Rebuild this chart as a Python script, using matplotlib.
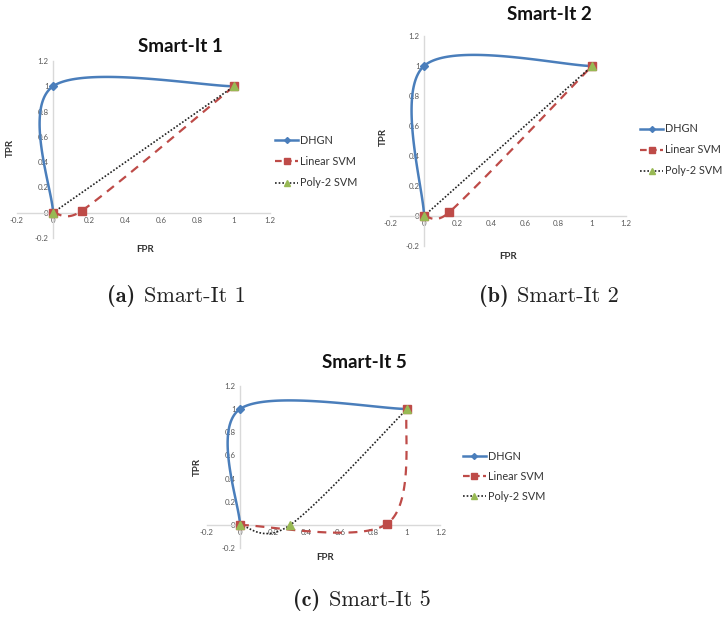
import numpy as np
import matplotlib
matplotlib.use("Agg")
import matplotlib.pyplot as plt
from matplotlib.lines import Line2D

plt.rcParams['font.family'] = ['Lato', 'DejaVu Sans']

# ---- data ----
titles = ["Smart-It 1", "Smart-It 2", "Smart-It 5"]
caption_tags = ["(a)", "(b)", "(c)"]
caption_texts = ["Smart-It 1", "Smart-It 2", "Smart-It 5"]
series_names = ["DHGN", "Linear SVM", "Poly-2 SVM"]

dhgn_fpr = [[0, 0, 1], [0, 0, 1], [0, 0, 1]]
dhgn_tpr = [[0, 1, 1], [0, 1, 1], [0, 1, 1]]
lin_fpr = [[0, 0.16, 1], [0, 0.15, 1], [0, 0.88, 1]]
lin_tpr = [[0, 0.016, 1], [0, 0.025, 1], [0, 0.01, 1]]
poly_fpr = [[0, 1], [0, 1], [0, 0.3, 1]]
poly_tpr = [[0, 1], [0, 1], [0, 0, 1]]

ticks = [-0.2, 0, 0.2, 0.4, 0.6, 0.8, 1, 1.2]
tick_labels = ["-0.2", "0", "0.2", "0.4", "0.6", "0.8", "1", "1.2"]

C_BLUE = "#4A7EBB"
C_RED = "#BE4B48"
C_GREEN = "#98B954"
C_AXIS = "#D9D9D9"
C_TICK = "#595959"


def excel_smooth(xs, ys, f=1/6., n=60):
    p = np.column_stack([xs, ys]).astype(float)
    if len(p) < 3:
        return p[:, 0], p[:, 1]
    out = []
    m = len(p)
    for i in range(m - 1):
        p0, p1 = p[i], p[i + 1]
        seg = np.linalg.norm(p1 - p0)
        t0 = (p[i + 1] - p[i - 1]) if i > 0 else (p1 - p0)
        t1 = (p[i + 2] - p[i]) if i + 2 < m else (p1 - p0)
        a0 = t0 * f
        a1 = t1 * f
        for a in (a0, a1):
            ln = np.linalg.norm(a)
            lim = 0.8 * seg
            if ln > lim and ln > 0:
                a *= lim / ln
        c0 = p0 + a0
        c1 = p1 - a1
        t = np.linspace(0, 1, n)[:, None]
        b = ((1 - t) ** 3) * p0 + 3 * ((1 - t) ** 2) * t * c0 + 3 * (1 - t) * t ** 2 * c1 + t ** 3 * p1
        out.append(b if i == 0 else b[1:])
    b = np.vstack(out)
    return b[:, 0], b[:, 1]


W, H = 725, 632
fig = plt.figure(figsize=(W / 100, H / 100), dpi=100)

# axes rect in pixels: left, right, top, bottom  (data -0.2..1.2)
rects = [(16.8, 270.2, 61.0, 238.0), (390.4, 625.6, 36.0, 246.0), (206.6, 440.4, 385.8, 548.2)]
title_pos = [(180, 46), (549, 14), (364, 362)]
tpr_pos = [(10, 148), (383, 137), (197, 467)]
fpr_pos = [(145, 249), (508, 257), (325, 558)]
leg_pos = [(275, 140, 21.5), (640, 129, 21), (463, 456, 20)]
cap_pos = [(176, 296), (549, 296), (362, 600)]


def fx(px):
    return px / W


def fy(py):
    return 1 - py / H


renderer = fig.canvas.get_renderer()

for k in range(3):
    l, r, t, btm = rects[k]
    ax = fig.add_axes([fx(l), fy(btm), (r - l) / W, (btm - t) / H])
    ax.set_xlim(-0.2, 1.2)
    ax.set_ylim(-0.2, 1.2)
    ax.patch.set_alpha(0)
    for s in ("top", "right"):
        ax.spines[s].set_visible(False)
    ax.spines["left"].set_position(("data", 0))
    ax.spines["bottom"].set_position(("data", 0))
    for s in ("left", "bottom"):
        ax.spines[s].set_color(C_AXIS)
        ax.spines[s].set_linewidth(1.0)
    ax.set_xticks(ticks)
    ax.set_xticklabels(tick_labels)
    ax.set_yticks(ticks)
    ax.set_yticklabels(tick_labels)
    ax.tick_params(length=0, labelsize=5.7, labelcolor=C_TICK, pad=3)

    x, y = excel_smooth(dhgn_fpr[k], dhgn_tpr[k])
    ax.plot(x, y, color=C_BLUE, lw=1.8, solid_capstyle="round", zorder=3)
    ax.plot(dhgn_fpr[k], dhgn_tpr[k], ls="none", marker="D", ms=4, color=C_BLUE, zorder=4)

    x, y = excel_smooth(lin_fpr[k], lin_tpr[k])
    ax.plot(x, y, color=C_RED, lw=1.6, dashes=(4, 3), zorder=3)
    ax.plot(lin_fpr[k], lin_tpr[k], ls="none", marker="s", ms=5.5, color=C_RED, zorder=4)

    x, y = excel_smooth(poly_fpr[k], poly_tpr[k])
    ax.plot(x, y, color="#222222", lw=1.2, ls=(0, (1, 1.1)), zorder=3)
    ax.plot(poly_fpr[k], poly_tpr[k], ls="none", marker="^", ms=5.5, color=C_GREEN, zorder=5)

    fig.text(fx(title_pos[k][0]), fy(title_pos[k][1]), titles[k], ha="center", va="center",
             fontsize=13.5, fontweight="bold", color="#111111")
    fig.text(fx(tpr_pos[k][0]), fy(tpr_pos[k][1]), "TPR", ha="center", va="center",
             fontsize=7, fontweight="bold", rotation=90, color="#333333")
    fig.text(fx(fpr_pos[k][0]), fy(fpr_pos[k][1]), "FPR", ha="center", va="center",
             fontsize=7, fontweight="bold", color="#333333")

    # legend
    lx, ly, dy = leg_pos[k]
    styles = [
        dict(color=C_BLUE, lw=1.8, marker="D", ms=3, ls="-"),
        dict(color=C_RED, lw=1.6, marker="s", ms=4.5, ls=(0, (3, 1.5))),
        dict(color="#222222", lw=1.2, marker="^", ms=4.5, ls=(0, (1, 1.2)),
             markerfacecolor=C_GREEN, markeredgecolor=C_GREEN),
    ]
    for j, name in enumerate(series_names):
        yy = fy(ly + j * dy)
        fig.add_artist(Line2D([fx(lx), fx(lx + 23)], [yy, yy], transform=fig.transFigure,
                              color=styles[j]["color"], lw=styles[j]["lw"], ls=styles[j]["ls"]))
        mk = dict(styles[j])
        mk.pop("ls"); mk.pop("lw")
        fig.add_artist(Line2D([fx(lx + 11.5)], [yy], transform=fig.transFigure, ls="none", **mk))
        fig.text(fx(lx + 25), yy, name, ha="left", va="center", fontsize=7.8, color="#333333")

    # caption: bold tag + roman text, centred as a whole
    cx, cy = cap_pos[k]
    t1 = fig.text(0, fy(cy), caption_tags[k], ha="left", va="center", fontsize=16,
                  family=["cmb10", "DejaVu Serif"], color="#222222")
    t2 = fig.text(0, fy(cy), caption_texts[k], ha="left", va="center", fontsize=16,
                  family=["cmr10", "DejaVu Serif"], color="#222222")
    w1 = t1.get_window_extent(renderer).width
    w2 = t2.get_window_extent(renderer).width
    gap = 9
    total = w1 + gap + w2
    x0 = cx - total / 2
    t1.set_x(fx(x0))
    t2.set_x(fx(x0 + w1 + gap))

fig.savefig("out.png", dpi=100)
